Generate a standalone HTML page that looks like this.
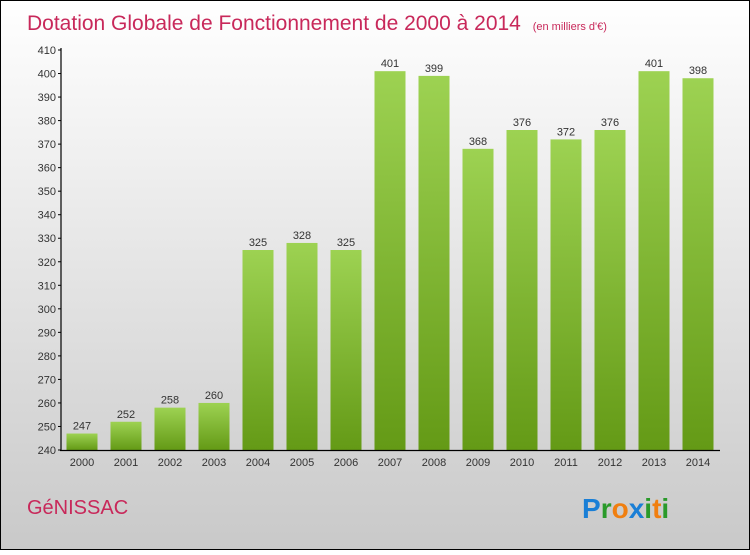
<!DOCTYPE html>
<html><head><meta charset="utf-8"><style>
html,body{margin:0;padding:0}
body{width:750px;height:550px;overflow:hidden;font-family:"Liberation Sans",sans-serif}
</style></head><body>
<svg width="750" height="550" xmlns="http://www.w3.org/2000/svg">
<defs>
<linearGradient id="bg" x1="0" y1="0" x2="0" y2="1"><stop offset="0" stop-color="#ffffff"/><stop offset="1" stop-color="#c9c9c9"/></linearGradient>
<linearGradient id="bar" x1="0" y1="0" x2="0" y2="1"><stop offset="0" stop-color="#9dd252"/><stop offset="1" stop-color="#649a16"/></linearGradient>
</defs>
<rect x="0.5" y="0.5" width="749" height="549" fill="url(#bg)" stroke="#000"/>
<text x="27" y="30" font-size="21" fill="#c8285a">Dotation Globale de Fonctionnement de 2000 à 2014 <tspan font-size="11" dx="6">(en milliers d'€)</tspan></text>
<g id="yaxis"></g>
<g id="bars"></g>
<g id="xaxis"></g>
<text x="27" y="514" font-size="20" fill="#c8285a">GéNISSAC</text>
<g font-size="28" font-weight="bold" font-family="Liberation Sans, sans-serif">
<text x="582" y="518"><tspan fill="#1a7fd6">P</tspan><tspan fill="#2a9a2a">r</tspan><tspan fill="#f07f10">o</tspan><tspan fill="#1a7fd6">x</tspan><tspan fill="#2a9a2a">i</tspan><tspan fill="#f07f10">t</tspan><tspan fill="#2a9a2a">i</tspan></text>
</g>
</svg>
<script>
const categories=["2000","2001","2002","2003","2004","2005","2006","2007","2008","2009","2010","2011","2012","2013","2014"];
const values=[247,252,258,260,325,328,325,401,399,368,376,372,376,401,398];
const yTicks=[240,250,260,270,280,290,300,310,320,330,340,350,360,370,380,390,400,410];
const NS="http://www.w3.org/2000/svg";
const y0=450,y1=50,vmin=240,vmax=410;
function ys(v){return y0-(v-vmin)/(vmax-vmin)*(y0-y1);}
function xs(i){return 82+i*44;}
function mk(t,a,p){const e=document.createElementNS(NS,t);for(const k in a)e.setAttribute(k,a[k]);p.appendChild(e);return e;}
const ya=document.getElementById('yaxis'),bg=document.getElementById('bars'),xa=document.getElementById('xaxis');
categories.forEach((c,i)=>{
 const v=values[i];
 const r=mk('rect',{x:xs(i)-15.5,y:ys(v),width:31,height:y0-ys(v),fill:'url(#bar)'},bg);
 
 
 const t=mk('text',{x:xs(i),y:ys(v)-4,'text-anchor':'middle','font-size':'11',fill:'#333'},bg);
 t.textContent=v;
 
 
 const l=mk('text',{x:xs(i),y:466,'text-anchor':'middle','font-size':'11',fill:'#333'},xa);
 l.textContent=c;
 
 
});
yTicks.forEach(v=>{
 mk('line',{x1:58,x2:61,y1:ys(v),y2:ys(v),stroke:'#000'},ya);
 const t=mk('text',{x:56,y:ys(v)+4,'text-anchor':'end','font-size':'11',fill:'#333'},ya);
 t.textContent=v;
 
 
});
mk('line',{x1:61,x2:61,y1:48,y2:451,stroke:'#000','stroke-width':1.2},ya);
mk('line',{x1:60,x2:720,y1:450.5,y2:450.5,stroke:'#000','stroke-width':1.2},xa);
</script>
</body></html>
